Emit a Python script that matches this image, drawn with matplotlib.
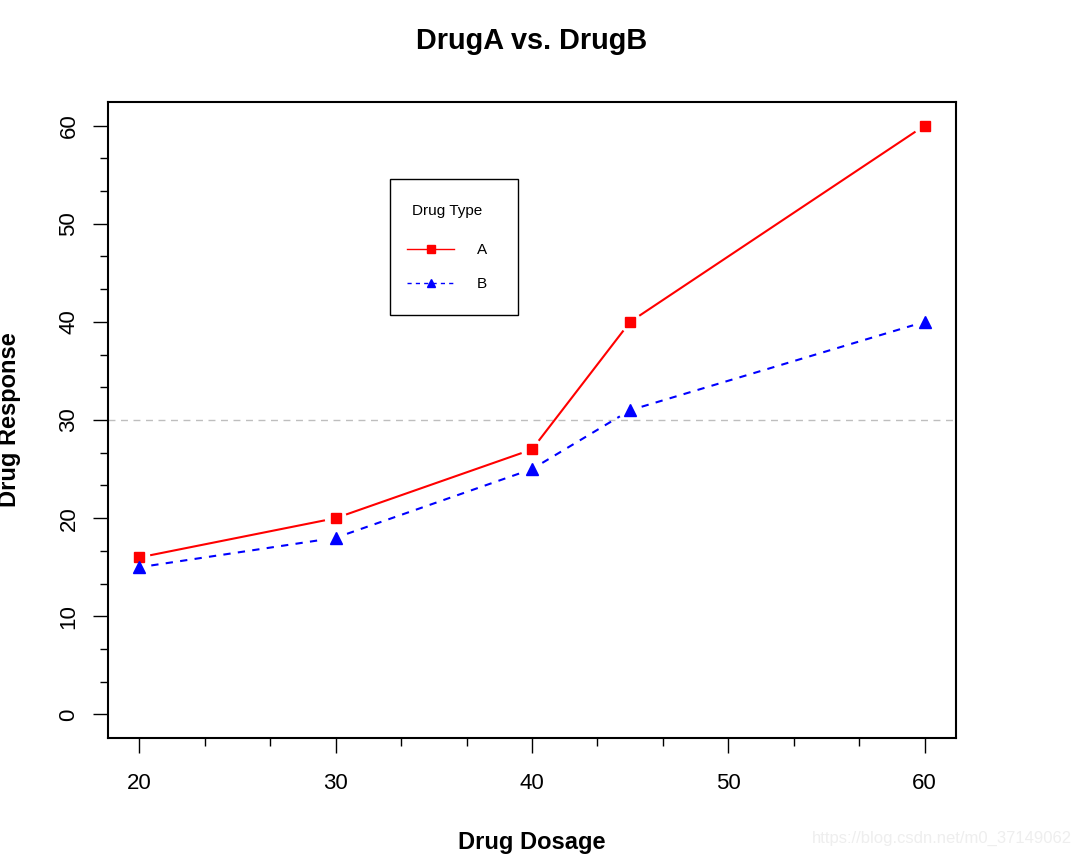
import numpy as np
import matplotlib.pyplot as plt
from matplotlib.ticker import MultipleLocator
from matplotlib.lines import Line2D
from matplotlib.patches import Rectangle

plt.rcParams['font.family'] = ['Liberation Sans', 'DejaVu Sans']

# data
dose = [20, 30, 40, 45, 60]
drugA = [16, 20, 27, 40, 60]
drugB = [15, 18, 25, 31, 40]


def gapped(ax, x, y, gap_px, **kw):
    # R type="b": segments stop short of each point
    pts = ax.transData.transform(np.column_stack([x, y]))
    inv = ax.transData.inverted()
    for p0, p1 in zip(pts[:-1], pts[1:]):
        d = p1 - p0
        u = d / np.hypot(*d)
        a = inv.transform(p0 + u * gap_px)
        b = inv.transform(p1 - u * gap_px)
        ax.plot([a[0], b[0]], [a[1], b[1]], **kw)


fig = plt.figure(figsize=(10.81, 8.57), dpi=100)
ax = fig.add_axes([108 / 1081, 1 - 738 / 857, 848 / 1081, 636 / 857])
ax.set_xlim(18.4, 61.6)
ax.set_ylim(-2.4, 62.4)

gapped(ax, dose, drugA, 12, color='red', lw=1.5, ls='-')
gapped(ax, dose, drugB, 12, color='blue', lw=1.5, ls=(0, (3.5, 3.5)))
ax.plot(dose, drugA, ls='none', marker='s', ms=7.5, color='red', mec='red')
ax.plot(dose, drugB, ls='none', marker='^', ms=9, color='blue', mec='blue')
ax.axhline(30, color='#bebebe', lw=1, ls=(0, (5, 4)), zorder=0)

for s in ax.spines.values():
    s.set_linewidth(1.5)

ax.xaxis.set_major_locator(MultipleLocator(10))
ax.xaxis.set_minor_locator(MultipleLocator(10 / 3))
ax.yaxis.set_major_locator(MultipleLocator(10))
ax.yaxis.set_minor_locator(MultipleLocator(10 / 3))
ax.tick_params(which='major', length=10.5, width=1, labelsize=16, pad=15)
ax.tick_params(which='minor', length=5.8, width=1)
ax.tick_params(axis='y', which='major', pad=10)
for lab in ax.get_yticklabels():
    lab.set_rotation(90)
    lab.set_va('center')

ax.set_title('DrugA vs. DrugB', fontsize=20.8, fontweight='bold', pad=38)
ax.set_xlabel('Drug Dosage', fontsize=17, fontweight='bold', labelpad=26)
ax.set_ylabel('Drug Response', fontsize=17, fontweight='bold', labelpad=27)

# legend (frame drawn separately, like R's legend box)
ax.add_patch(Rectangle((282 / 848, 423 / 636), 128 / 848, 136 / 636,
                       transform=ax.transAxes, fill=True, fc='white',
                       ec='black', lw=1, zorder=4))
handles = [
    Line2D([], [], color='red', lw=1, marker='s', ms=5.5),
    Line2D([], [], color='blue', lw=1, ls=(0, (3, 3)), marker='^', ms=6),
]
leg = ax.legend(handles, ['A', 'B'], title='Drug Type', loc='upper left',
                bbox_to_anchor=(299 / 848, 534 / 636), fontsize=11,
                title_fontsize=11, frameon=False,
                handlelength=3.1, handletextpad=1.45, borderpad=0,
                labelspacing=1.3, borderaxespad=0)
leg._legend_box.sep = 18
leg.set_zorder(5)

fig.text(0.992, 0.013, 'https://blog.csdn.net/m0_37149062', ha='right',
         va='bottom', fontsize=12, color='#eeeeee')

fig.savefig('out.png', dpi=100)
